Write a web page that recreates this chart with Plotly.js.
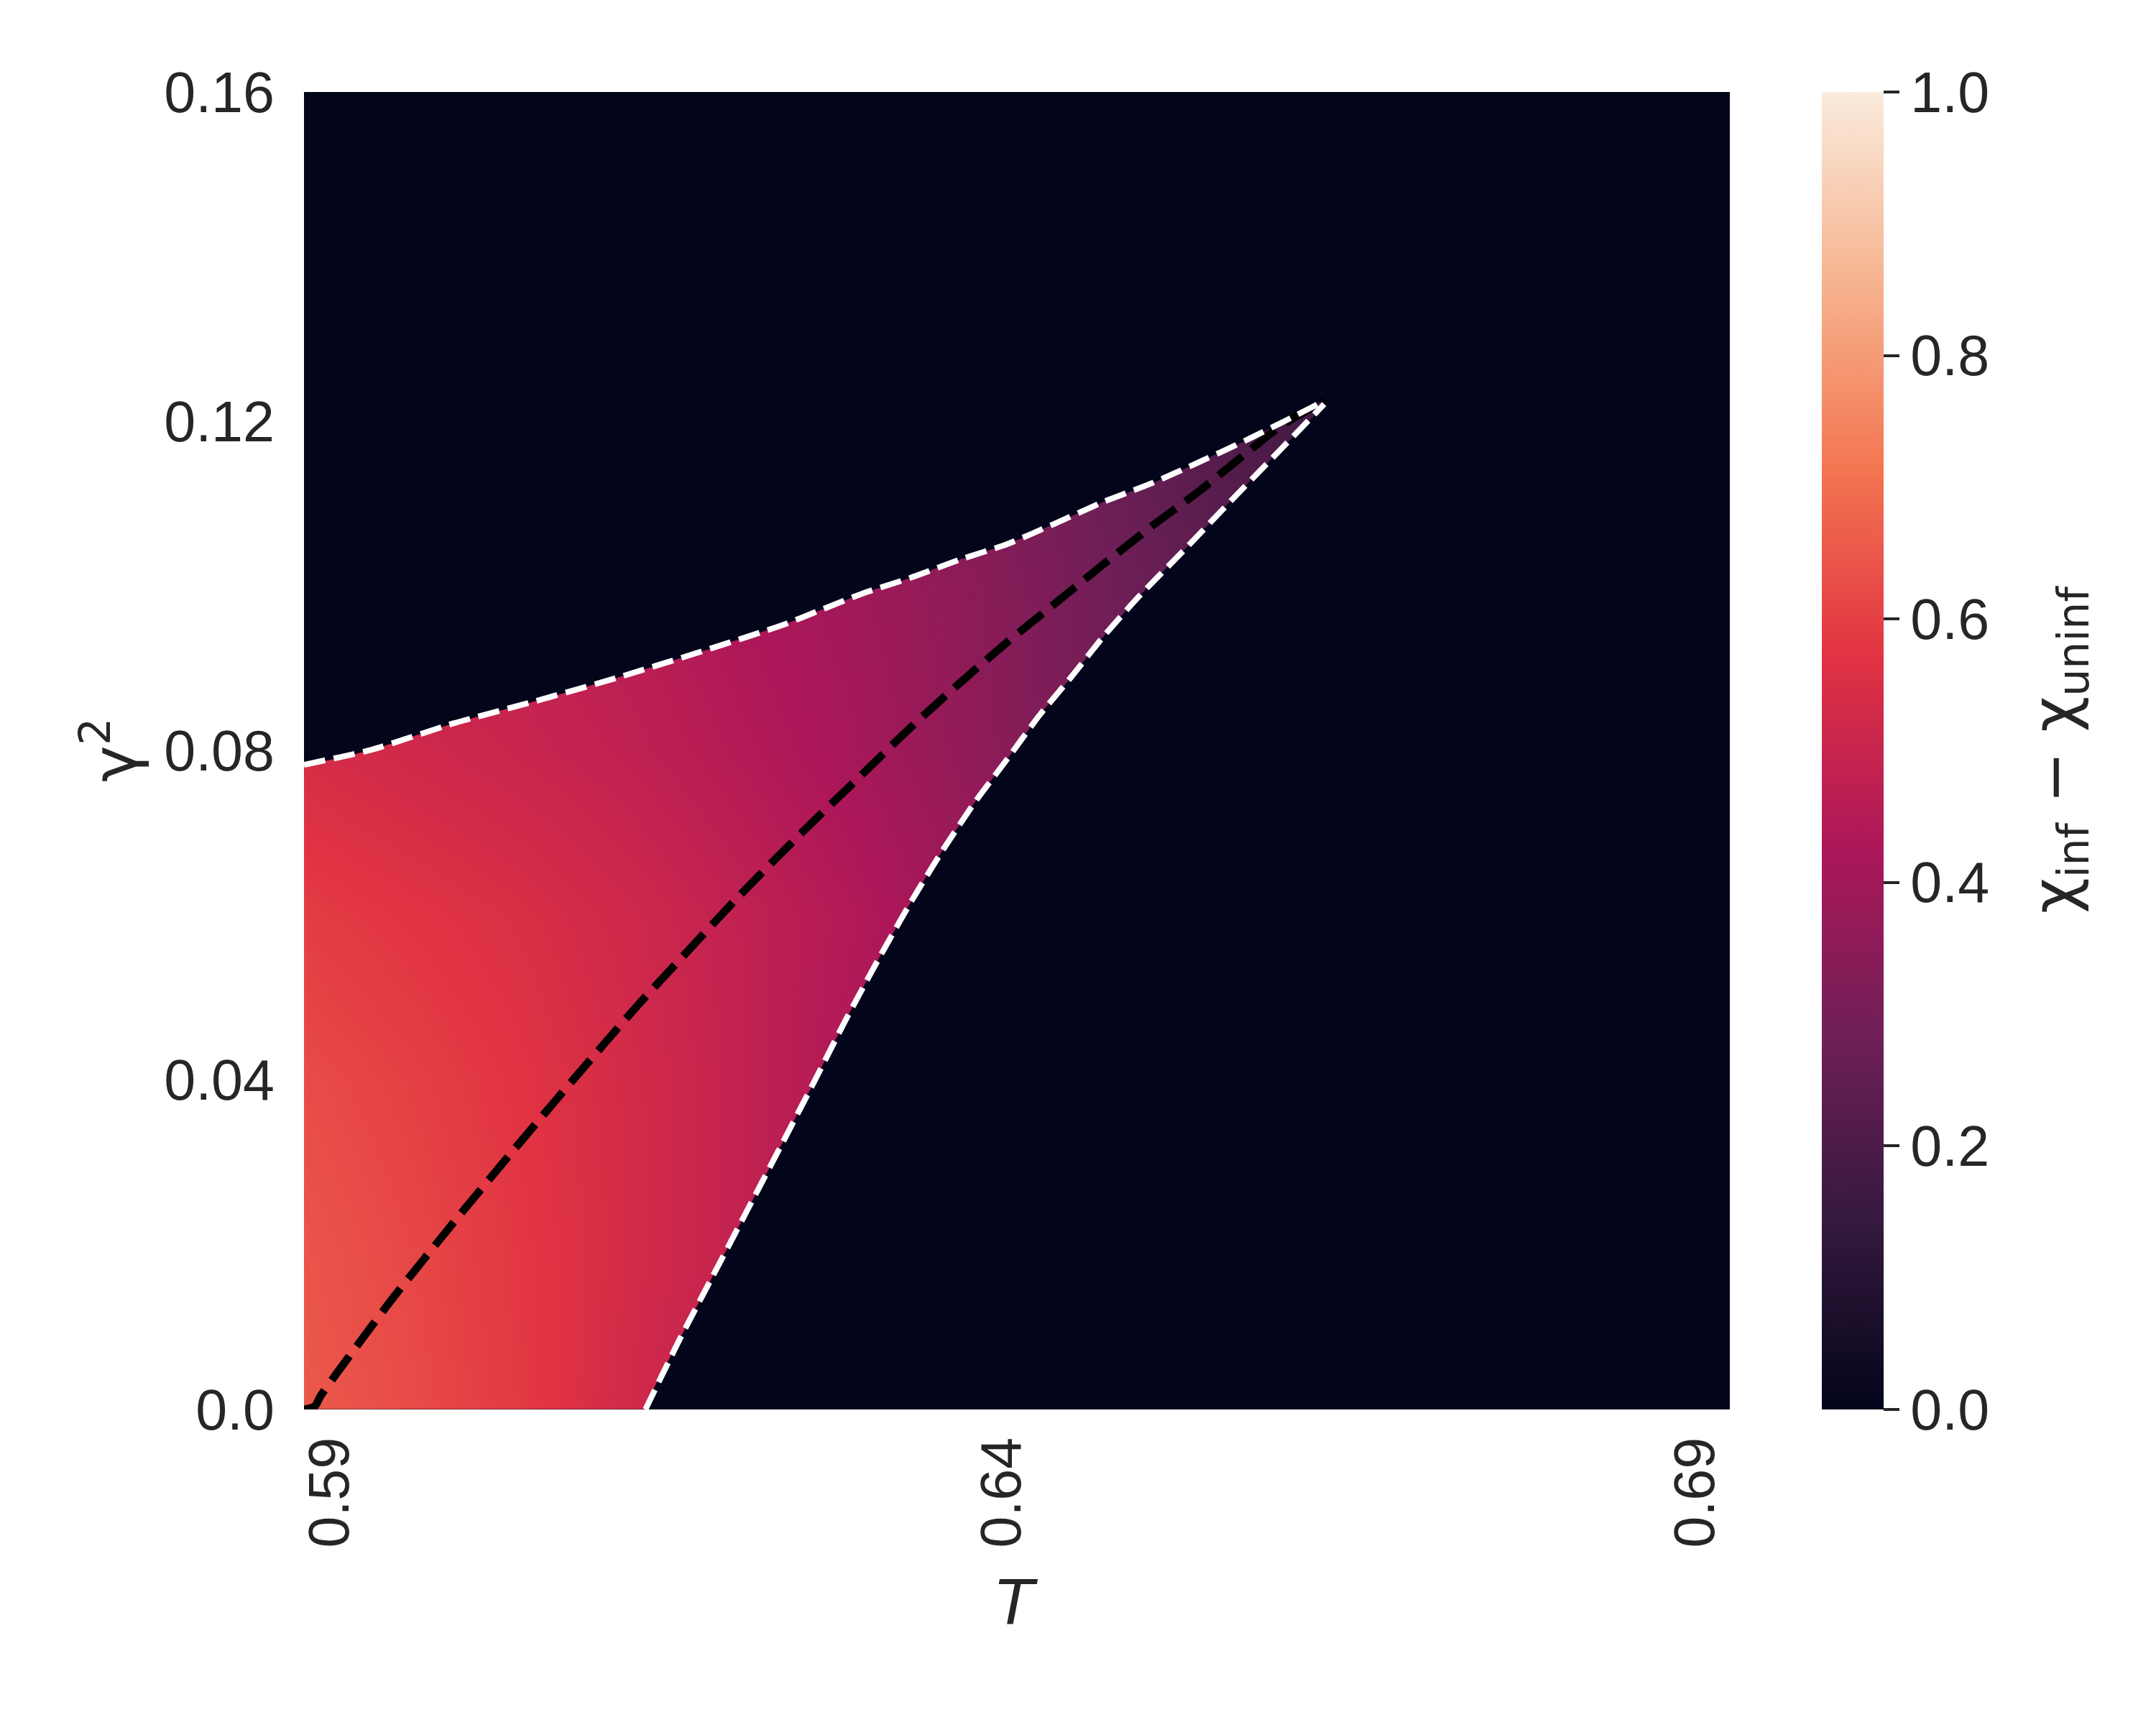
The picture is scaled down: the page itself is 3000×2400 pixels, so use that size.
<!DOCTYPE html>
<html>
<head>
<meta charset="utf-8">
<script src="https://cdn.plot.ly/plotly-3.0.1.min.js"></script>
<style>
  body { margin: 0; background: #ffffff; }
  #myPlot { width: 3000px; height: 2400px; }
</style>
</head>
<body>
<div id="myPlot"></div>
<script>
// Axis ranges (T on x, gamma^2 on y)
var xRange = [0.5881, 0.6925];
var yRange = [0, 0.16];

// Tick labels
var xTickVals = [0.59, 0.6392, 0.69];
var xTickText = ["0.59", "0.64", "0.69"];
var yTickVals = [0, 0.04, 0.08, 0.12, 0.16];
var yTickText = ["0.0", "0.04", "0.08", "0.12", "0.16"];
var cbTickVals = [0, 0.2, 0.4, 0.6, 0.8, 1.0];

// Coarse grid of chi_inf - chi_uninf
var gridT = [0.588, 0.596, 0.604, 0.612, 0.620, 0.628, 0.636, 0.644, 0.652, 0.660, 0.668];
var gridG = [0, 0.02, 0.04, 0.06, 0.08, 0.10, 0.12, 0.14];
var gridZ = [
    [0.652, 0.622, 0.585, 0.525, 0.470, 0.420, 0.370, 0.320, 0.270, 0.220, 0.170],
    [0.642, 0.614, 0.580, 0.535, 0.485, 0.435, 0.385, 0.335, 0.285, 0.235, 0.185],
    [0.624, 0.600, 0.570, 0.532, 0.485, 0.435, 0.385, 0.335, 0.285, 0.235, 0.185],
    [0.592, 0.572, 0.550, 0.518, 0.482, 0.445, 0.395, 0.345, 0.295, 0.245, 0.195],
    [0.540, 0.520, 0.500, 0.478, 0.448, 0.415, 0.365, 0.310, 0.258, 0.208, 0.158],
    [0.510, 0.495, 0.478, 0.458, 0.428, 0.398, 0.355, 0.305, 0.255, 0.205, 0.155],
    [0.480, 0.460, 0.440, 0.420, 0.390, 0.360, 0.328, 0.285, 0.238, 0.188, 0.138],
    [0.450, 0.430, 0.410, 0.390, 0.360, 0.330, 0.300, 0.260, 0.210, 0.160, 0.110]
];

// Upper boundary (white dashed)
var upperT = [0.5881, 0.5930, 0.5990, 0.6050, 0.6111, 0.6171, 0.6232, 0.6258, 0.6290, 0.6325,
              0.6361, 0.6396, 0.6431, 0.6466, 0.6502, 0.6537, 0.6572, 0.6607, 0.6628];
var upperG = [0.0783, 0.0801, 0.0833, 0.0860, 0.0889, 0.0920, 0.0953, 0.0970, 0.0991, 0.1010,
              0.1032, 0.1051, 0.1076, 0.1102, 0.1125, 0.1151, 0.1178, 0.1207, 0.1225];

// Lower boundary (white dashed)
var lowerT = [0.6131, 0.6156, 0.6180, 0.6204, 0.6228, 0.6253, 0.6277, 0.6302, 0.6326, 0.6349,
              0.6372, 0.6396, 0.6419, 0.6443, 0.6466, 0.6491, 0.6525, 0.6560, 0.6595, 0.6628];
var lowerG = [0.0000, 0.0085, 0.0161, 0.0237, 0.0313, 0.0393, 0.0471, 0.0548, 0.0618, 0.0680,
              0.0737, 0.0790, 0.0842, 0.0890, 0.0938, 0.0985, 0.1043, 0.1104, 0.1164, 0.1221];

// Middle line (black dashed)
var midT = [0.5881, 0.5889, 0.5893, 0.5905, 0.5945, 0.5990, 0.6035, 0.6081, 0.6126, 0.6156,
            0.6201, 0.6247, 0.6292, 0.6325, 0.6361, 0.6396, 0.6431, 0.6466, 0.6502, 0.6537,
            0.6572, 0.6595, 0.6628];
var midG = [0.0000, 0.0004, 0.0016, 0.0044, 0.0133, 0.0226, 0.0316, 0.0406, 0.0492, 0.0546,
            0.0626, 0.0703, 0.0775, 0.0828, 0.0882, 0.0932, 0.0979, 0.1026, 0.1073, 0.1116,
            0.1163, 0.1193, 0.1225];

// seaborn "rocket"
var rocket = [
    [0.0, "#03051a"], [0.1429, "#35193e"], [0.2857, "#701f57"], [0.4286, "#ad1759"],
    [0.5714, "#e13342"], [0.7143, "#f37651"], [0.8571, "#f6b48f"], [1.0, "#faebdd"]
];
var zeroColor = "#03051a";
var textColor = "#262626";
var tickFont = { family: "Liberation Sans, Arial", size: 79, color: textColor };
var labelFont = { family: "DejaVu Sans", size: 86, color: textColor };

// Region outside the curves is zero -> mask polygon built from the boundary arrays
var pad = 0.01;
var maskT = [xRange[0] - pad].concat(upperT, lowerT.slice().reverse(),
    [lowerT[0], xRange[1] + pad, xRange[1] + pad, xRange[0] - pad]);
var maskG = [upperG[0]].concat(upperG, lowerG.slice().reverse(),
    [yRange[0] - pad, yRange[0] - pad, yRange[1] + pad, yRange[1] + pad]);

var data = [
    {
        type: "heatmap",
        x: gridT,
        y: gridG,
        z: gridZ,
        zmin: 0,
        zmax: 1,
        zsmooth: "best",
        colorscale: rocket,
        hoverinfo: "skip",
        colorbar: {
            x: 1.0645,
            xanchor: "left",
            y: 0.5,
            yanchor: "middle",
            len: 1,
            lenmode: "fraction",
            thickness: 86,
            thicknessmode: "pixels",
            xpad: 0,
            ypad: 0,
            outlinewidth: 0,
            ticks: "outside",
            ticklen: 22,
            tickwidth: 4,
            tickcolor: textColor,
            tickvals: cbTickVals,
            tickformat: ".1f",
            tickfont: tickFont
        }
    },
    {
        type: "scatter",
        x: maskT,
        y: maskG,
        mode: "lines",
        fill: "toself",
        fillcolor: zeroColor,
        line: { width: 0, color: zeroColor, shape: "spline", smoothing: 0.6 },
        hoverinfo: "skip"
    },
    {
        type: "scatter",
        x: midT,
        y: midG,
        mode: "lines",
        line: { color: "#000000", width: 11, dash: "42px,17px", shape: "spline", smoothing: 0.6 }
    },
    {
        type: "scatter",
        x: upperT,
        y: upperG,
        mode: "lines",
        line: { color: "#ffffff", width: 8, dash: "30px,12px", shape: "spline", smoothing: 0.6 }
    },
    {
        type: "scatter",
        x: lowerT,
        y: lowerG,
        mode: "lines",
        line: { color: "#ffffff", width: 8, dash: "30px,12px", shape: "spline", smoothing: 0.6 }
    }
];

var layout = {
    width: 3000,
    height: 2400,
    margin: { l: 423, r: 593, t: 128, b: 439 },
    paper_bgcolor: "#ffffff",
    plot_bgcolor: zeroColor,
    showlegend: false,
    xaxis: {
        range: xRange,
        tickvals: xTickVals,
        ticktext: xTickText,
        tickangle: -90,
        ticks: "",
        ticklabelstandoff: 22,
        showgrid: false,
        zeroline: false,
        showline: false,
        tickfont: tickFont
    },
    yaxis: {
        range: yRange,
        tickvals: yTickVals,
        ticktext: yTickText,
        ticks: "",
        ticklabelstandoff: 40,
        showgrid: false,
        zeroline: false,
        showline: false,
        tickfont: tickFont
    },
    annotations: [
        {
            text: "<i>T</i>",
            xref: "paper", yref: "paper",
            x: 0.5005, y: -0.1462,
            xanchor: "center", yanchor: "middle",
            showarrow: false,
            font: labelFont
        },
        {
            text: "γ<sup>2</sup>",
            xref: "paper", yref: "paper",
            x: -0.1361, y: 0.5008,
            xanchor: "center", yanchor: "middle",
            textangle: -90,
            showarrow: false,
            font: labelFont
        },
        {
            text: "χ<sub>inf</sub> − χ<sub>uninf</sub>",
            xref: "paper", yref: "paper",
            x: 1.2303, y: 0.5008,
            xanchor: "center", yanchor: "middle",
            textangle: -90,
            showarrow: false,
            font: labelFont
        }
    ]
};

Plotly.newPlot("myPlot", data, layout, { staticPlot: true });
</script>
</body>
</html>
